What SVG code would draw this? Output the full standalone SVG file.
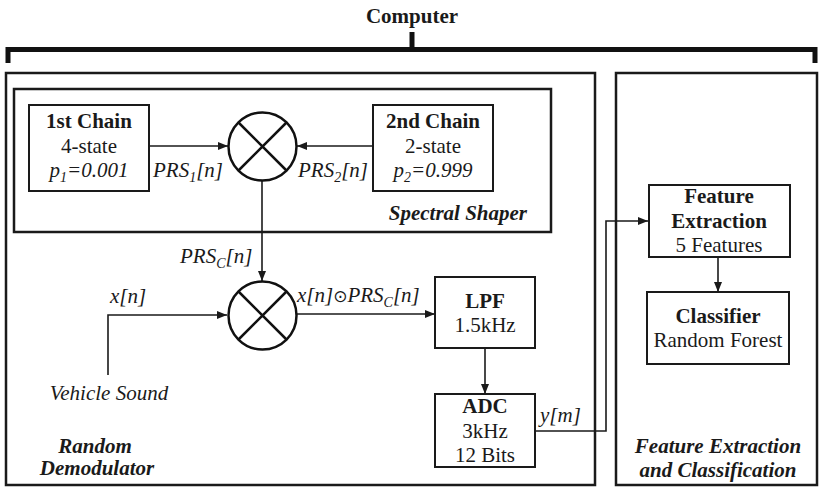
<svg xmlns="http://www.w3.org/2000/svg" width="820" height="488" viewBox="0 0 820 488">
<defs>
<marker id="arr" viewBox="0 0 10 8" refX="10" refY="4" markerWidth="10" markerHeight="8" markerUnits="userSpaceOnUse" orient="auto">
<path d="M0,0 L10,4 L0,8 Z" fill="#1a1a1a"/>
</marker>
<style>
text{font-family:"Liberation Serif","Times New Roman",serif;font-size:21px;fill:#1a1a1a}
.b{font-weight:bold}
.i{font-style:italic}
.bi{font-weight:bold;font-style:italic}
.c{text-anchor:middle}
.sub{font-size:14px}
.outer{fill:none;stroke:#1a1a1a;stroke-width:2.5}
.box{fill:#fff;stroke:#1a1a1a;stroke-width:2}
.mix{fill:#fff;stroke:#111;stroke-width:2.5}
.wire{fill:none;stroke:#1a1a1a;stroke-width:1.6}
.arrow{fill:none;stroke:#1a1a1a;stroke-width:1.6;marker-end:url(#arr)}
.brk{fill:none;stroke:#111;stroke-width:5}
</style>
</defs>
<rect width="820" height="488" fill="#fff"/>

<g id="computer">
<text class="b c" x="412" y="23">Computer</text>
<path class="brk" d="M8,63 V49.5 H815 V63"/>
<path class="brk" d="M412,32 V49.5"/>
</g>

<g id="random-demodulator">
<rect class="outer" x="6" y="73" width="589" height="412"/>
<text class="bi c" x="95" y="453">Random</text>
<text class="bi c" x="97" y="475">Demodulator</text>
</g>

<g id="spectral-shaper">
<rect class="outer" x="14" y="89" width="537" height="143"/>
<text class="bi" x="527" y="220" text-anchor="end">Spectral Shaper</text>
</g>

<g id="fec">
<rect class="outer" x="616" y="73" width="201" height="412"/>
<text class="bi c" x="718" y="453">Feature Extraction</text>
<text class="bi c" x="718" y="477">and Classification</text>
</g>

<g id="connectors">
<path class="arrow" d="M149,146 H228"/>
<path class="arrow" d="M373,146 H297"/>
<path class="arrow" d="M262,181 V281"/>
<path class="arrow" d="M108,375 V315 H227"/>
<path class="arrow" d="M297,314 H435"/>
<path class="arrow" d="M485,348 V394"/>
<path class="arrow" d="M535,431 H606 V221 H648"/>
<path class="arrow" d="M718,257 V292"/>
</g>

<g id="chain1">
<rect class="box" x="29" y="105" width="120" height="86"/>
<text class="b c" x="89" y="128">1st Chain</text>
<text class="c" x="89" y="153">4-state</text>
<text class="i c" x="89" y="177">p<tspan class="sub" dy="5">1</tspan><tspan dy="-5">=0.001</tspan></text>
</g>

<g id="chain2">
<rect class="box" x="373" y="105" width="120" height="86"/>
<text class="b c" x="433" y="128">2nd Chain</text>
<text class="c" x="433" y="153">2-state</text>
<text class="i c" x="433" y="177">p<tspan class="sub" dy="5">2</tspan><tspan dy="-5">=0.999</tspan></text>
</g>

<g id="mixer1">
<circle class="mix" cx="262.5" cy="146.5" r="34"/>
<path class="mix" d="M238.5,122.5 L286.5,170.5 M286.5,122.5 L238.5,170.5"/>
</g>

<g id="mixer2">
<circle class="mix" cx="262.5" cy="315.5" r="34"/>
<path class="mix" d="M238.5,291.5 L286.5,339.5 M286.5,291.5 L238.5,339.5"/>
</g>

<g id="labels">
<text class="i" x="153" y="177">PRS<tspan class="sub" dy="5">1</tspan><tspan dy="-5">[n]</tspan></text>
<text class="i" x="298" y="177">PRS<tspan class="sub" dy="5">2</tspan><tspan dy="-5">[n]</tspan></text>
<text class="i" x="180" y="263">PRS<tspan class="sub" dy="5">C</tspan><tspan dy="-5">[n]</tspan></text>
<text class="i" x="110" y="303">x[n]</text>
<text class="i" x="297" y="302">x[n]<tspan font-style="normal" font-family="DejaVu Sans" font-size="17">⊙</tspan>PRS<tspan class="sub" dy="5">C</tspan><tspan dy="-5">[n]</tspan></text>
<text class="i c" x="109" y="400">Vehicle Sound</text>
<text class="i" x="540" y="422">y[m]</text>
</g>

<g id="lpf">
<rect class="box" x="435" y="277" width="100" height="71"/>
<text class="b c" x="485" y="308">LPF</text>
<text class="c" x="485" y="332">1.5kHz</text>
</g>

<g id="adc">
<rect class="box" x="435" y="394" width="100" height="73"/>
<text class="b c" x="485" y="413">ADC</text>
<text class="c" x="485" y="438">3kHz</text>
<text class="c" x="485" y="462">12 Bits</text>
</g>

<g id="feature-extraction">
<rect class="box" x="649" y="185" width="141" height="72"/>
<text class="b c" x="719" y="203">Feature</text>
<text class="b c" x="719" y="228">Extraction</text>
<text class="c" x="719" y="252">5 Features</text>
</g>

<g id="classifier">
<rect class="box" x="647" y="292" width="142" height="72"/>
<text class="b c" x="718" y="323">Classifier</text>
<text class="c" x="718" y="347">Random Forest</text>
</g>
</svg>
